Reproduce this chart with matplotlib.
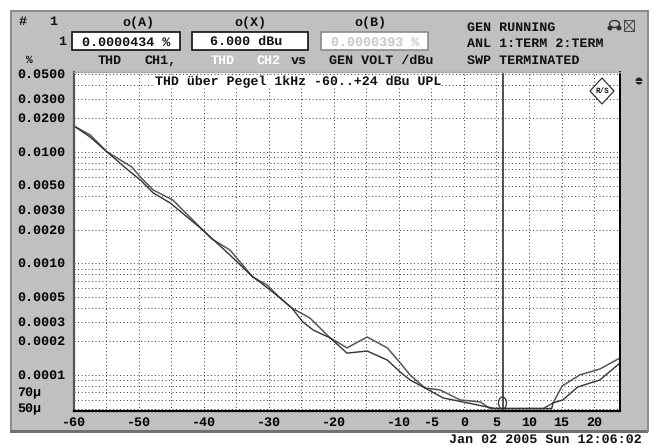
import matplotlib
matplotlib.use('Agg')
import matplotlib.pyplot as plt
from matplotlib.patches import Rectangle, Ellipse, Polygon
from matplotlib.transforms import Affine2D

# sweep values
level_a = [-60, -57.5, -54.9, -51.1, -49.8, -47.8, -44.8, -40.2, -38.8, -36, -32.5, -30.3, -28.3, -26.5, -23.7,
           -20.6, -18, -14.9, -11.8, -9.8, -8.3, -6, -3.7, -0.6, 2.5, 4, 12.2, 13.7, 15.1, 17.8, 20.9, 24]
thd_a = [0.0171, 0.0142, 0.0100, 0.00734, 0.00597, 0.00456, 0.00371, 0.00200, 0.00166, 0.00132, 0.000757,
         0.000641, 0.000491, 0.000399, 0.000324, 0.000215, 0.000175, 0.000219, 0.000175, 0.000128, 0.0001,
         0.0000764, 0.0000734, 0.0000597, 0.0000573, 0.00005, 0.00005, 0.0000561, 0.0000796, 0.0001, 0.000113,
         0.000142]
level_b = [-60, -57.5, -54.9, -51.7, -49.8, -47.8, -45.2, -40.2, -36, -32.5, -31.4, -28.3, -26.5, -24.8, -23.2,
           -20.6, -18, -14.9, -11.8, -9.8, -8.3, -6, -3.2, -0.2, 3.5, 4.8, 13.5, 13.7, 15.2, 17.5, 20.9, 24]
thd_b = [0.0171, 0.0136, 0.0100, 0.0069, 0.00561, 0.00429, 0.00349, 0.00200, 0.00119, 0.000757, 0.000682,
         0.000491, 0.000399, 0.000299, 0.000253, 0.000215, 0.000157, 0.000164, 0.000136, 0.000106, 0.0000902,
         0.0000764, 0.0000622, 0.0000573, 0.0000517, 0.00005, 0.00005, 0.0000561, 0.0000597, 0.000078, 0.0000902,
         0.000128]

x_ticks = [-60, -50, -40, -30, -20, -10, -5, 0, 5, 10, 15, 20]
x_grid = [-55, -45, -35, -25, -15]
y_ticks = [0.05, 0.03, 0.02, 0.01, 0.005, 0.003, 0.002, 0.001, 0.0005, 0.0003, 0.0002, 0.0001, 0.00007, 0.00005]
y_labels = ['0.0500', '0.0300', '0.0200', '0.0100', '0.0050', '0.0030', '0.0020', '0.0010', '0.0005', '0.0003',
            '0.0002', '0.0001', '70µ', '50µ']
y_grid = [0.04, 0.009, 0.008, 0.007, 0.006, 0.004, 0.0009, 0.0008, 0.0007, 0.0006, 0.0004,
          0.00009, 0.00008, 0.00006]
cursor_x = 6

W, H = 654, 445
plt.rcParams['font.family'] = ['Liberation Mono', 'DejaVu Sans Mono']
plt.rcParams['font.weight'] = 'bold'
plt.rcParams['font.size'] = 9.6
plt.rcParams['text.hinting'] = 'no_hinting'

fig = plt.figure(figsize=(W / 100, H / 100), dpi=100, facecolor='white')
# pixel coordinates of the screenshot, y going down
px = Affine2D().scale(1, -1).translate(0, H)


def box(x, y, w, h, fc, ec='none', lw=0, z=-1):
    fig.add_artist(Rectangle((x, y), w, h, transform=px, fc=fc, ec=ec, lw=lw, zorder=z))


def label(x, y, s, ha='left', color='#111111', **kw):
    fig.text(x, y, s, transform=px, ha=ha, va='center', color=color, **kw)


# instrument panel
box(12, 11, 636, 420, '#c0c0c0')
box(10, 10, 2, 422, '#8c8c8c')
box(10, 10, 638, 1.5, '#8c8c8c')
box(10, 430, 638, 2.5, '#707070')
box(647, 10, 1.5, 422, '#8c8c8c')

# the plot
ax = fig.add_axes([74 / W, 1 - 411 / H, 546 / W, 339 / H])
ax.set_xlim(-60, 24)
ax.set_yscale('log')
ax.set_ylim(4.75e-5, 0.0522)
ax.set_xticks(x_ticks)
ax.set_xticklabels([str(v) for v in x_ticks])
ax.set_xticks(x_grid, minor=True)
ax.set_yticks(y_ticks)
ax.set_yticklabels(y_labels)
ax.set_yticks(y_grid, minor=True)
ax.set_yticklabels([''] * len(y_grid), minor=True)
ax.tick_params(which='both', length=0)
ax.tick_params(axis='x', pad=4)
ax.tick_params(axis='y', pad=41)
up_one = Affine2D().translate(0, 1)
for t in ax.get_yticklabels():
    t.set_ha('left')
    t.set_transform(t.get_transform() + up_one)
ax.grid(True, which='both', color='#444444', lw=0.72, ls=(0, (1, 2.5)))
ax.set_axisbelow(True)

ax.plot(level_a, thd_a, color='#555555', lw=1.1)
ax.plot(level_b, thd_b, color='#333333', lw=1.0)
ax.axvline(cursor_x, color='#222222', lw=1.1)

for side, c, w in [('left', '#555555', 1.6), ('top', '#aaaaaa', 1), ('right', 'black', 1.4), ('bottom', 'black', 1.6)]:
    ax.spines[side].set_color(c)
    ax.spines[side].set_linewidth(w)

# title sits on top of the grid
label(155, 81.5, 'THD über Pegel 1kHz -60..+24 dBu UPL', zorder=5, fontsize=9.55,
      bbox=dict(fc='white', ec='none', pad=0.5))

# cursor marker
fig.add_artist(Ellipse((502.5, 403), 8, 12, transform=px, fc='none', ec='#333333', lw=0.9, zorder=5))

# header
label(19, 22, '#')
label(53, 22, '1', ha='center')
label(138, 23, 'o(A)', ha='center')
label(250, 23, 'o(X)', ha='center')
label(370, 23, 'o(B)', ha='center')
label(62, 42, '1', ha='center')
box(72, 32, 108, 18, 'white', '#111111', 1.2)
box(192, 32, 116, 18, 'white', '#111111', 1.2)
box(321, 32, 107, 18, 'white', '#8a8a8a', 1.2)
label(82, 42, '0.0000434 %')
label(210, 42, '6.000 dBu')
label(331, 42, '0.0000393 %', color='#c8c8c8')
label(29, 60, '%', ha='center', fontsize=8)
label(110, 61, 'THD', ha='center')
label(161, 61, 'CH1,', ha='center')
label(223, 61, 'THD', ha='center', color='white')
label(269, 61, 'CH2', ha='center', color='white')
label(299, 61, 'vs', ha='center')
label(381, 61, 'GEN VOLT /dBu', ha='center')
label(467, 28, 'GEN RUNNING')
label(467, 44, 'ANL 1:TERM 2:TERM')
label(467, 61, 'SWP TERMINATED')
label(642, 440, 'Jan 02 2005 Sun 12:06:02', ha='right')

# headphones and crossed speaker icons
fig.add_artist(Ellipse((610, 28), 5, 5, transform=px, fc='#333333', ec='none', zorder=5))
fig.add_artist(Ellipse((619, 28), 5, 5, transform=px, fc='#333333', ec='none', zorder=5))
fig.add_artist(Ellipse((614.5, 24), 10, 7, transform=px, fc='none', ec='#333333', lw=1, zorder=5))
box(624, 20, 10, 11, 'none', '#444444', 0.7, z=5)
fig.add_artist(Polygon([(624, 20), (634, 31)], closed=False, transform=px, fc='none', ec='#444444', lw=0.7, zorder=5))
fig.add_artist(Polygon([(624, 31), (634, 20)], closed=False, transform=px, fc='none', ec='#444444', lw=0.7, zorder=5))

# side marker, little black half ball
fig.add_artist(Ellipse((639, 81), 7, 7, transform=px, fc='#222222', ec='none', zorder=5))
box(635, 81, 8, 1, '#c0c0c0', z=6)

# logo diamond
fig.add_artist(Polygon([(602, 78), (614, 91), (602, 104), (590, 91)], closed=True, transform=px,
                       fc='white', ec='#333333', lw=0.9, zorder=5))
label(602, 91, 'R/S', ha='center', fontsize=5.5, zorder=6)

fig.savefig('out.png', dpi=100)
